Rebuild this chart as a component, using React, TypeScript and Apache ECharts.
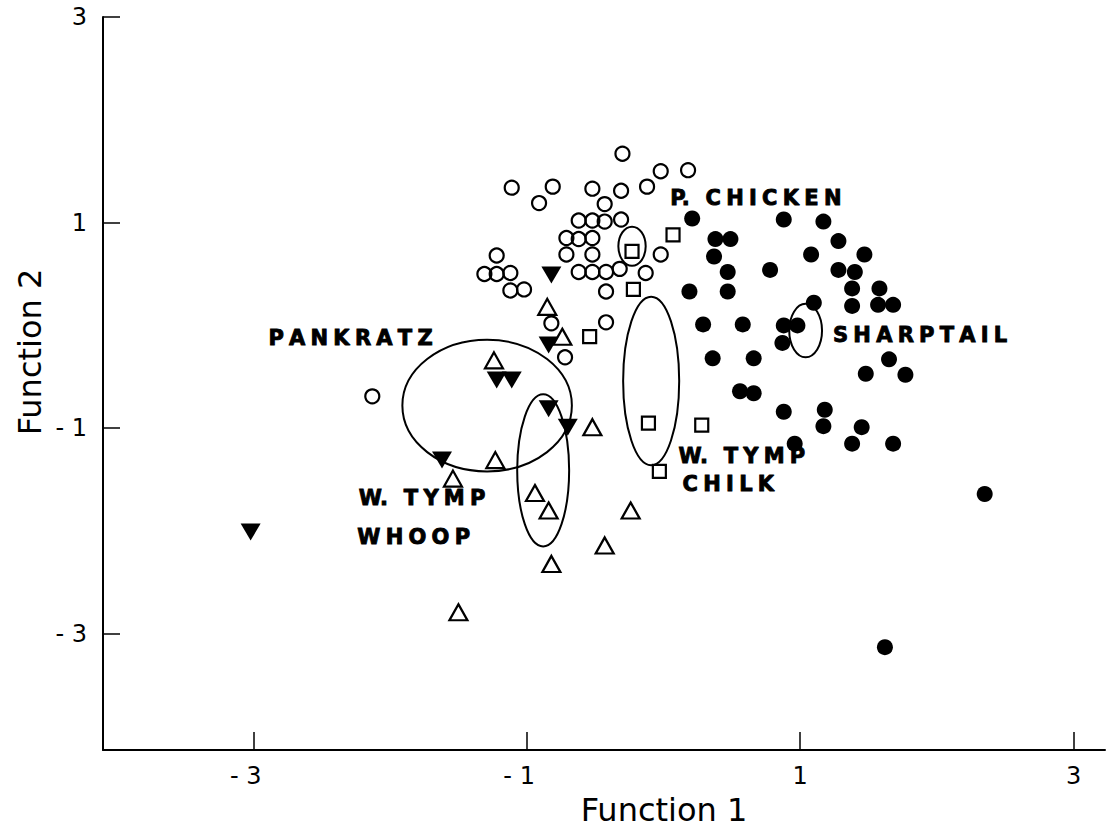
import React, { useEffect, useRef } from "react";
import * as echarts from "echarts";

// Axis tick values
const xTicks = [-3, -1, 1, 3];
const yTicks = [-3, -1, 1, 3];

// Open circles (prairie chicken)
const prairieChicken: number[][] = [
  [-0.30, 1.67], [-0.02, 1.50], [0.18, 1.51], [-1.11, 1.34], [-0.81, 1.35], [-0.91, 1.19],
  [-0.52, 1.33], [-0.31, 1.31], [-0.12, 1.35], [-0.43, 1.18], [-0.62, 1.02], [-0.52, 1.02],
  [-0.43, 1.01], [-0.31, 1.03], [-0.71, 0.85], [-0.62, 0.84], [-0.52, 0.85], [-0.71, 0.69],
  [-0.52, 0.69], [-0.02, 0.69], [-1.22, 0.68], [-1.31, 0.50], [-1.22, 0.50], [-1.12, 0.51],
  [-1.12, 0.34], [-1.02, 0.35], [-0.62, 0.52], [-0.52, 0.52], [-0.42, 0.52], [-0.32, 0.55],
  [-0.13, 0.51], [-0.42, 0.33], [-0.82, 0.02], [-0.42, 0.03], [-0.72, -0.31], [-2.13, -0.69],
];

// Filled circles (sharptail)
const sharptail: number[][] = [
  [0.21, 1.04], [0.88, 1.03], [1.17, 1.01], [0.38, 0.84], [0.49, 0.84], [1.28, 0.82],
  [0.37, 0.67], [1.08, 0.69], [1.47, 0.69], [0.47, 0.52], [0.78, 0.54], [1.28, 0.54],
  [1.40, 0.52], [0.19, 0.33], [0.47, 0.33], [1.38, 0.36], [1.58, 0.36], [1.10, 0.22],
  [1.38, 0.19], [1.57, 0.20], [1.68, 0.20], [0.29, 0.01], [0.58, 0.01], [0.88, 0.00],
  [0.98, 0.00], [0.87, -0.17], [0.36, -0.32], [0.66, -0.32], [1.65, -0.33], [1.48, -0.47],
  [1.77, -0.48], [0.56, -0.64], [0.66, -0.66], [0.88, -0.84], [1.18, -0.82], [1.17, -0.98],
  [1.45, -0.99], [0.96, -1.15], [1.38, -1.15], [1.68, -1.15], [2.35, -1.64], [1.62, -3.13],
];

// Open squares (W. Tymp Chilk)
const tympChilk: number[][] = [
  [0.07, 0.88], [-0.23, 0.72], [-0.22, 0.35], [-0.54, -0.11], [-0.11, -0.95], [0.28, -0.97],
  [-0.03, -1.42],
];

// Open triangles (W. Tymp Whoop)
const tympWhoop: number[][] = [
  [-1.24, -0.34], [-1.23, -1.31], [-1.54, -1.49], [-1.50, -2.79], [-0.85, 0.18], [-0.74, -0.11],
  [-0.52, -0.99], [-0.94, -1.63], [-0.84, -1.80], [-0.24, -1.80], [-0.43, -2.14], [-0.82, -2.32],
];

// Filled inverted triangles (Pankratz)
const pankratz: number[][] = [
  [-0.82, 0.49], [-0.84, -0.19], [-1.22, -0.53], [-1.11, -0.53], [-0.84, -0.81], [-0.70, -0.99],
  [-1.62, -1.31], [-3.02, -2.01],
];

// Group ellipses: [centre x, centre y, radius x, radius y]
const ellipses: number[][] = [
  [-1.29, -0.78, 0.62, 0.64],
  [-0.88, -1.41, 0.19, 0.74],
  [-0.09, -0.54, 0.205, 0.82],
  [-0.23, 0.77, 0.10, 0.19],
  [1.04, -0.05, 0.12, 0.26],
];

// Group labels
const SP = "\u2005";
const spaced = (s: string) => s.split("").join(SP);
const labelTexts = [
  "P." + SP + SP + SP + spaced("CHICKEN"),
  spaced("SHARPTAIL"),
  spaced("PANKRATZ"),
  "W." + SP + SP + SP + spaced("TYMP"),
  spaced("WHOOP"),
  "W." + SP + SP + SP + spaced("TYMP"),
  spaced("CHILK"),
];
const labelX = [0.05, 1.24, -2.89, -2.23, -2.24, 0.11, 0.14];
const labelY = [1.24, -0.09, -0.12, -1.68, -2.06, -1.27, -1.54];

const FONT = "DejaVu Sans";

export default function App() {
  const ref = useRef<HTMLDivElement>(null);

  useEffect(() => {
    if (!ref.current) return;
    const chart = echarts.init(ref.current, undefined, { renderer: "svg" });
    const openStyle = { color: "rgba(255,255,255,0)", borderColor: "#000", borderWidth: 2.2, opacity: 1 };
    const solidStyle = { color: "#000", opacity: 1 };

    chart.setOption({
      animation: false,
      backgroundColor: "#fff",
      grid: { left: 103, top: 17, right: 2, bottom: 78, containLabel: false },
      xAxis: {
        type: "value",
        min: -4.1,
        max: 3.23,
        splitLine: { show: false },
        axisLine: { show: true, onZero: false, lineStyle: { color: "#000", width: 2 } },
        axisTick: { show: true, inside: true, length: 18, customValues: xTicks, lineStyle: { color: "#000", width: 1.5 } },
        axisLabel: {
          show: true,
          customValues: xTicks,
          margin: 14,
          fontSize: 24,
          fontFamily: FONT,
          color: "#000",
          formatter: (v: number) => (v < 0 ? `-\u00A0${Math.abs(v)}\u00A0\u00A0` : `${v}`),
        },
      },
      yAxis: {
        type: "value",
        min: -4.13,
        max: 3,
        splitLine: { show: false },
        axisLine: { show: true, onZero: false, lineStyle: { color: "#000", width: 2 } },
        axisTick: { show: true, inside: true, length: 17, customValues: yTicks, lineStyle: { color: "#000", width: 1.5 } },
        axisLabel: {
          show: true,
          customValues: yTicks,
          margin: 16,
          fontSize: 24,
          fontFamily: FONT,
          color: "#000",
          formatter: (v: number) => (v < 0 ? `-\u00A0${Math.abs(v)}` : `${v}`),
        },
      },
      graphic: [
        {
          type: "text",
          x: 664,
          y: 810,
          style: { text: "Function 1", fontSize: 32, fontFamily: FONT, fill: "#000", align: "center", verticalAlign: "middle" },
        },
        {
          type: "text",
          x: 30,
          y: 352,
          rotation: Math.PI / 2,
          style: { text: "Function 2", fontSize: 32, fontFamily: FONT, fill: "#000", align: "center", verticalAlign: "middle" },
        },
      ],
      series: [
        {
          type: "custom",
          silent: true,
          clip: false,
          data: ellipses,
          renderItem: (_p: any, api: any) => {
            const c = api.coord([api.value(0), api.value(1)]);
            const s = api.size([api.value(2), api.value(3)]);
            return {
              type: "ellipse",
              shape: { cx: c[0], cy: c[1], rx: s[0], ry: s[1] },
              style: { fill: "none", stroke: "#000", lineWidth: 2 },
            };
          },
        },
        {
          type: "scatter",
          data: prairieChicken,
          symbol: "circle",
          symbolSize: 14,
          itemStyle: openStyle,
        },
        {
          type: "scatter",
          data: tympChilk,
          symbol: "rect",
          symbolSize: 13,
          itemStyle: openStyle,
        },
        {
          type: "scatter",
          data: tympWhoop,
          symbol: "triangle",
          symbolSize: [18, 16],
          itemStyle: openStyle,
        },
        {
          type: "scatter",
          data: pankratz,
          symbol: "triangle",
          symbolRotate: 180,
          symbolSize: [20, 17],
          itemStyle: solidStyle,
        },
        {
          type: "scatter",
          data: sharptail,
          symbol: "circle",
          symbolSize: 16,
          itemStyle: solidStyle,
        },
        {
          type: "custom",
          silent: true,
          clip: false,
          data: labelX.map((x, i) => [x, labelY[i]]),
          renderItem: (p: any, api: any) => {
            const c = api.coord([api.value(0), api.value(1)]);
            return {
              type: "text",
              x: c[0],
              y: c[1],
              style: {
                text: labelTexts[p.dataIndex],
                fontSize: 21,
                fontWeight: "bold",
                fontFamily: FONT,
                fill: "#000",
                stroke: "#000",
                lineWidth: 0.9,
                align: "left",
                verticalAlign: "middle",
              },
            };
          },
        },
      ],
    });
    return () => chart.dispose();
  }, []);

  return (
    <div
      ref={ref}
      style={{ position: "fixed", left: 0, top: 0, width: 1107, height: 828, background: "#fff" }}
    />
  );
}
